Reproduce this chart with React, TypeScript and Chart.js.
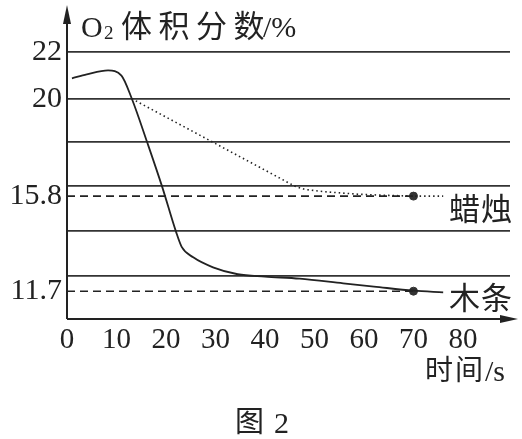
import React, { useEffect, useRef } from "react";
import { Chart, registerables } from "chart.js";

Chart.register(...registerables);

const xTicks = [0, 10, 20, 30, 40, 50, 60, 70, 80];
const yGridValues = [22, 20, 18.12, 16.22, 14.28, 12.38];
const yLabelValues = [22, 20, 15.8, 11.7];
const yLabelTexts = ["22", "20", "15.8", "11.7"];

const woodTime = [1, 4, 8.3, 11, 13.1, 16.2, 19.2, 22.0, 23.2, 25.5, 29.5, 34.5, 40, 47, 55.8, 62, 70, 76];
const woodO2 = [20.88, 21.05, 21.22, 21.0, 20.0, 18.12, 16.22, 14.28, 13.6, 13.16, 12.73, 12.43, 12.33, 12.24, 12.04, 11.9, 11.72, 11.65];

const candleTime = [13.1, 46.1, 48, 52, 59, 65, 70, 76];
const candleO2 = [20.0, 16.22, 16.09, 15.99, 15.88, 15.83, 15.8, 15.8];

const refTime = [0, 70];
const candleRef = 15.8;
const woodRef = 11.7;
const endTime = 70;
const endO2 = [15.8, 11.7];

const SERIF = '"Liberation Serif", "Times New Roman", serif';
const CJK = '"Noto Sans CJK SC", sans-serif';
const INK = "#222";

const textPlugin = {
  id: "annotText",
  afterDraw(chart: any) {
    const { ctx, chartArea } = chart;
    const x0 = chart.scales.x.getPixelForValue(0);
    const yb = chartArea.bottom;
    ctx.save();
    ctx.fillStyle = INK;
    ctx.strokeStyle = INK;
    ctx.lineWidth = 2;
    // y axis with arrow
    ctx.beginPath();
    ctx.moveTo(x0, yb);
    ctx.lineTo(x0, 16);
    ctx.stroke();
    ctx.beginPath();
    ctx.moveTo(x0, 5);
    ctx.lineTo(x0 - 4, 24);
    ctx.lineTo(x0 + 4, 24);
    ctx.closePath();
    ctx.fill();
    // x axis with arrow
    ctx.beginPath();
    ctx.moveTo(x0, yb);
    ctx.lineTo(505, yb);
    ctx.stroke();
    ctx.beginPath();
    ctx.moveTo(518, yb);
    ctx.lineTo(500, yb - 4);
    ctx.lineTo(500, yb + 4);
    ctx.closePath();
    ctx.fill();

    ctx.textAlign = "left";
    ctx.textBaseline = "alphabetic";
    // title
    ctx.font = "30px " + SERIF;
    ctx.fillText("O", 81, 37);
    ctx.font = "19px " + SERIF;
    ctx.fillText("2", 104, 39);
    ctx.font = "31px " + CJK;
    const tchars = ["体", "积", "分", "数"];
    tchars.forEach((c, i) => ctx.fillText(c, 121 + i * 37.5, 37));
    ctx.font = "30px " + SERIF;
    ctx.fillText("/%", 263, 37);

    // x axis title
    ctx.font = "28px " + CJK;
    ctx.fillText("时", 425, 380);
    ctx.fillText("间", 455, 380);
    ctx.font = "30px " + SERIF;
    ctx.fillText("/s", 485, 381);

    // series labels
    ctx.font = "31px " + CJK;
    ctx.fillText("蜡", 449, 220);
    ctx.fillText("烛", 481, 220);
    ctx.fillText("木", 449, 309);
    ctx.fillText("条", 481, 309);

    // figure caption
    ctx.font = "29px " + CJK;
    ctx.fillText("图", 235, 432);
    ctx.font = "30px " + SERIF;
    ctx.fillText("2", 274, 433);
    ctx.restore();
  },
};

export default function App() {
  const ref = useRef<HTMLCanvasElement | null>(null);

  useEffect(() => {
    if (!ref.current) return;
    const chart = new Chart(ref.current, {
      type: "scatter",
      data: {
        datasets: [
          {
            label: "蜡烛参考",
            data: refTime.map((t) => ({ x: t, y: candleRef })),
            showLine: true,
            borderColor: INK,
            borderWidth: 1.6,
            borderDash: [8, 5],
            pointRadius: 0,
          },
          {
            label: "木条参考",
            data: refTime.map((t) => ({ x: t, y: woodRef })),
            showLine: true,
            borderColor: INK,
            borderWidth: 1.6,
            borderDash: [8, 5],
            pointRadius: 0,
          },
          {
            label: "木条",
            data: woodTime.map((t, i) => ({ x: t, y: woodO2[i] })),
            showLine: true,
            borderColor: INK,
            borderWidth: 1.8,
            pointRadius: 0,
            cubicInterpolationMode: "monotone",
          },
          {
            label: "蜡烛",
            data: candleTime.map((t, i) => ({ x: t, y: candleO2[i] })),
            showLine: true,
            borderColor: INK,
            borderWidth: 1.6,
            borderDash: [1.5, 3],
            pointRadius: 0,
            tension: 0,
          },
          {
            label: "终点",
            data: endO2.map((v) => ({ x: endTime, y: v })),
            showLine: false,
            backgroundColor: "#333",
            borderColor: "#333",
            pointRadius: 4,
          },
        ],
      },
      options: {
        animation: false,
        responsive: false,
        devicePixelRatio: 1,
        layout: { padding: { top: 6, right: 12, left: 0, bottom: 0 } },
        plugins: {
          legend: { display: false },
          tooltip: { enabled: false },
          title: { display: false },
        },
        scales: {
          x: {
            type: "linear",
            min: 0,
            max: 89.5,
            afterBuildTicks: (s: any) => {
              s.ticks = xTicks.map((v) => ({ value: v }));
            },
            afterFit: (s: any) => {
              s.height = 120;
              s.paddingLeft = 0;
              s.paddingRight = 0;
            },
            grid: { display: false, drawTicks: false },
            border: { display: false },
            ticks: {
              autoSkip: false,
              maxRotation: 0,
              padding: 4,
              color: INK,
              font: { family: SERIF, size: 29 },
            },
          },
          y: {
            type: "linear",
            min: 10.5,
            max: 24,
            afterBuildTicks: (s: any) => {
              s.ticks = [...yGridValues, ...yLabelValues]
                .filter((v, i, a) => a.indexOf(v) === i)
                .sort((a, b) => a - b)
                .map((v) => ({ value: v }));
            },
            afterFit: (s: any) => {
              s.width = 67;
              s.paddingTop = 0;
              s.paddingBottom = 0;
            },
            grid: {
              drawTicks: false,
              lineWidth: 1.8,
              color: (c: any) =>
                c.tick && yGridValues.includes(c.tick.value) ? "#333" : "rgba(0,0,0,0)",
            },
            border: { display: false },
            ticks: {
              autoSkip: false,
              padding: 5,
              color: INK,
              font: { family: SERIF, size: 30 },
              callback: (v: any) => {
                const i = yLabelValues.indexOf(Number(v));
                return i >= 0 ? yLabelTexts[i] : "";
              },
            },
          },
        },
      },
      plugins: [textPlugin],
    } as any);
    return () => chart.destroy();
  }, []);

  return (
    <div style={{ position: "absolute", left: 0, top: 0, width: 522, height: 439, background: "#fff" }}>
      <canvas ref={ref} width={522} height={439} style={{ width: 522, height: 439, display: "block" }} />
    </div>
  );
}
